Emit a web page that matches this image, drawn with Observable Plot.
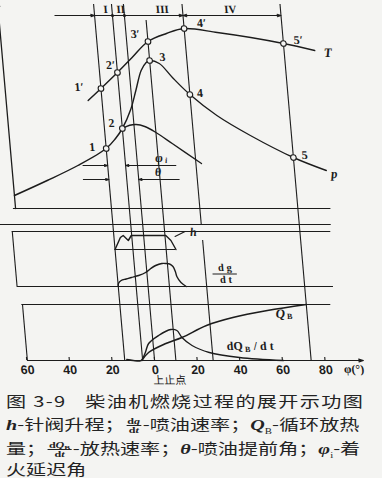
<!DOCTYPE html>
<html><head><meta charset="utf-8">
<script src="https://cdn.jsdelivr.net/npm/d3@7"></script>
<script src="https://cdn.jsdelivr.net/npm/@observablehq/plot@0.6"></script>
<style>
html,body{margin:0;padding:0;background:#f4f4f2;}
#wrap{position:relative;width:382px;height:478px;overflow:hidden;}
#chart{transform:skewX(5deg);transform-origin:0 360px;}
#chart svg{display:block;}
.cap{position:absolute;left:6px;white-space:nowrap;font-family:"Noto Sans CJK SC";font-size:15px;color:#232323;transform:scaleX(1.34);transform-origin:0 50%;line-height:22px;height:22px;}
.fr{display:inline-block;vertical-align:middle;font-family:"Liberation Serif",serif;font-size:9px;line-height:8px;text-align:center;font-weight:bold;margin:0 1px;}
.fr > span{display:block;padding:0 1px;height:8px;}
.fr .n{border-bottom:1px solid #232323;}
.cap i{font-family:"Liberation Serif",serif;font-weight:bold;}
.cap sub{font-size:8px;line-height:8px;font-family:"Liberation Serif",serif;}
.fr sub{font-size:6.5px;line-height:6px;vertical-align:baseline;position:relative;top:1.5px;}
</style></head>
<body><div id="wrap"><div id="chart"></div>
<div class="cap" style="top:390px;letter-spacing:1px">图 3-9<span style="display:inline-block;width:14px"></span>柴油机燃烧过程的展开示功图</div>
<div class="cap" style="top:413px"><i>h</i>-针阀升程；<span class="fr"><span class="n">d<i>g</i></span><span>d<i>t</i></span></span>-喷油速率；<i>Q</i><sub>B</sub>-循环放热</div>
<div class="cap" style="top:437px">量；<span class="fr"><span class="n">d<i>Q</i><sub>B</sub></span><span>d<i>t</i></span></span>-放热速率；<i>θ</i>-喷油提前角；<i>φ</i><sub>i</sub>-着</div>
<div class="cap" style="top:460px;line-height:18px;height:18px">火延迟角</div>
</div>
<script>
// ---------------- data (crank angle in degrees, curve heights in relative units) ----------------
const crankTicks = [-60, -40, -20, 0, 20, 40, 60, 80];
// characteristic angles: 1 injection start, 2 combustion start, TDC, 3 p max, 4 T max, 5 end of combustion
const markLines = [-14, -5.6, 0, 10, 27.5, 73.5];
const stageNames = ["I", "II", "III", "IV"];
const stageAngle = [-8.6, -1.5, 18, 50];

const pAngle = [-59, -43, -28, -14, -9.2, -5.6, -0.9, 2.3, 5.6, 8.3, 10, 14.4, 20, 27.5, 39.3, 54.2, 73.5, 88.4];
const pValue = [6.5, 14, 21.5, 30, 35, 40, 49.5, 59, 69, 73, 74, 72.5, 65.5, 57, 46.5, 36.5, 25.5, 19];
const motoredAngle = [-5.6, -2, 1, 5, 10, 17.2, 30.1];
const motoredValue = [40, 41.6, 42, 41, 38, 32.5, 22.5];
const tAngle = [-20.5, -14, -5.6, 1.9, 10, 19, 27.5, 42.9, 58.4, 73.5, 87.9];
const tValue = [54, 60, 68, 75.5, 83.5, 87.5, 90, 88, 85.5, 82.5, 79];

const pointAngle = [-14, -5.6, 10, 27.5, 73.5];
const pPointValue = [30, 40, 74, 57, 25.5];
const tPointValue = [60, 68, 83.5, 90, 82.5];
const pointNames = ["1", "2", "3", "4", "5"];
const pLabelAngle = [-20.6, -10.5, 16.1, 32.2, 78.9];
const pLabelValue = [30.5, 42.5, 75.5, 57.5, 26.5];
const tLabelAngle = [-24.2, -8.5, 4.3, 35.9, 80.6];
const tLabelValue = [60.5, 71.5, 87, 92.5, 84];

const hAngle = [-14, -11, -9.6, -7.4, -5.8, 10.4, 12.6, 14.6];
const hValue = [37, 49, 51, 46, 51, 51, 46, 37];
const dgAngle = [-14, -13.8, -12.4, -10, -7.5, -4, -0.6, 2, 4.4, 7.4, 9.3, 11, 12.5, 13.4, 13.9, 15.6, 17.9];
const dgValue = [0, 3, 6, 7.5, 9, 11, 14, 18, 21, 23, 23, 22.5, 20, 15, 10, 4, 0];

const qAngle = [-6, -2.5, 6, 13.8, 25.8, 38.5, 55, 73.5];
const qValue = [0, 8, 17, 23, 35, 43, 50, 56];
const dqAngle = [-13, -10, -7, -6, -4, -2.1, 2.9, 8.9, 11.7, 13.8, 18.2, 26, 40, 60.5];
const dqValue = [1, 0, -0.5, 0.5, 8, 17, 25, 31, 30, 23, 15, 8, 3, 0];

// ---------------- drawing ----------------
const ink = "#1c1c1c";
const bg = "#f4f4f2";
const serif = "Liberation Serif";
const zip = (xs, ys) => xs.map((x, i) => ({x, y: ys[i]}));
const X = {domain: [-72.3, 107], axis: null};
const common = {width: 382, marginLeft: 0, marginRight: 0, style: {background: "transparent", overflow: "visible"}};
const lbl = {fontFamily: serif, fontWeight: "bold", fill: ink};

// top panel: p and T
const topPlot = Plot.plot({
  ...common, height: 214, marginTop: 0, marginBottom: 6,
  x: X, y: {domain: [0, 104], axis: null},
  marks: [
    Plot.ruleY([0], {x1: -60, x2: 89, stroke: ink, strokeWidth: 1.2}),
    Plot.arrow([{a: -59, b0: 0, b1: 103.5}], {x1: "a", x2: "a", y1: "b0", y2: "b1", stroke: ink, strokeWidth: 1.3, headLength: 6, headAngle: 40}),
    Plot.ruleX(markLines, {x: d => d, y1: -3, y2: d => d === 10 ? 94 : 102, stroke: ink, strokeWidth: 1.1}),
    // stage dimension line
    Plot.ruleY([96.5], {x1: -32.5, x2: 73.5, stroke: ink, strokeWidth: 1}),
    Plot.arrow([[-32.5, -14], [15, 27.5], [40, 27.5], [55, 73.5]], {x1: d => d[0], x2: d => d[1], y1: 96.5, y2: 96.5, stroke: ink, strokeWidth: 1, headLength: 6, headAngle: 35}),
    Plot.dot([-5.6, 0], {x: d => d, y: 96.5, r: 1.6, fill: ink}),
    Plot.text(stageNames, {x: (d, i) => stageAngle[i], y: 99.5, text: d => d, fontSize: 11, ...lbl}),
    // phi_i and theta dimension arrows
    Plot.arrow([[-25.6, -14, 21.5], [18, -5.6, 21.5], [-26, -14, 14.5], [19, 0, 14.5]], {x1: d => d[0], x2: d => d[1], y1: d => d[2], y2: d => d[2], stroke: ink, strokeWidth: 1, headLength: 5, headAngle: 35}),
    Plot.text(["φ"], {x: 10.4, y: 25.5, text: d => d, fontSize: 13, fontStyle: "italic", ...lbl}),
    Plot.text(["i"], {x: 10.4, y: 25.5, dx: 7, dy: 3, text: d => d, fontSize: 8, fontStyle: "italic", ...lbl}),
    Plot.text(["θ"], {x: 9.3, y: 18, text: d => d, fontSize: 12, fontStyle: "italic", ...lbl}),
    // curves
    Plot.line(zip(pAngle, pValue), {x: "x", y: "y", curve: "catmull-rom", stroke: ink, strokeWidth: 1.4}),
    Plot.line(zip(motoredAngle, motoredValue), {x: "x", y: "y", curve: "catmull-rom", stroke: ink, strokeWidth: 1.4}),
    Plot.line(zip(tAngle, tValue), {x: "x", y: "y", curve: "catmull-rom", stroke: ink, strokeWidth: 1.4}),
    Plot.dot(zip(pointAngle, pPointValue), {x: "x", y: "y", r: 2.8, fill: bg, stroke: ink, strokeWidth: 1.1}),
    Plot.dot(zip(pointAngle, tPointValue), {x: "x", y: "y", r: 2.8, fill: bg, stroke: ink, strokeWidth: 1.1}),
    Plot.text(pointNames, {x: (d, i) => pLabelAngle[i], y: (d, i) => pLabelValue[i], text: d => d, fontSize: 12, ...lbl}),
    Plot.text(pointNames, {x: (d, i) => tLabelAngle[i], y: (d, i) => tLabelValue[i], text: d => d + "′", fontSize: 12, ...lbl}),
    Plot.text(["T"], {x: 94, y: 78, text: d => d, fontSize: 13, fontStyle: "italic", ...lbl}),
    Plot.text(["p"], {x: 92, y: 17.5, text: d => d, fontSize: 13, fontStyle: "italic", ...lbl})
  ]
});

// middle panel: needle lift h and injection rate dg/dt
const midPlot = Plot.plot({
  ...common, height: 86, marginTop: 0, marginBottom: 14,
  x: X, y: {domain: [0, 72], axis: null},
  marks: [
    Plot.ruleY([62], {x1: -68, x2: 88.5, stroke: ink, strokeWidth: 1.1}),
    Plot.ruleY([55], {x1: -61.5, x2: 88, stroke: ink, strokeWidth: 1.1}),
    Plot.ruleX([-61.5], {y1: 0, y2: 55, stroke: ink, strokeWidth: 1.1}),
    Plot.ruleY([0], {x1: -61.5, x2: 87, stroke: ink, strokeWidth: 1.1}),
    Plot.ruleX(markLines.filter(d => d !== 27.5), {x: d => d, y1: -14, y2: 72, stroke: ink, strokeWidth: 1.1}),
    Plot.ruleX([27.5, 27.5], {x: d => d, y1: (d, i) => i ? -14 : 61, y2: (d, i) => i ? 46 : 72, stroke: ink, strokeWidth: 1.1}),
    Plot.ruleY([37], {x1: -14, x2: 14.6, stroke: ink, strokeWidth: 1.1}),
    Plot.line(zip(hAngle, hValue), {x: "x", y: "y", stroke: ink, strokeWidth: 1.4}),
    Plot.line([[14.7, 50], [19.6, 55]], {x: d => d[0], y: d => d[1], stroke: ink, strokeWidth: 1}),
    Plot.text(["h"], {x: 21.8, y: 54, text: d => d, textAnchor: "start", fontSize: 12, fontStyle: "italic", ...lbl}),
    Plot.line(zip(dgAngle, dgValue), {x: "x", y: "y", curve: "catmull-rom", stroke: ink, strokeWidth: 1.4}),
    Plot.text(["d g"], {x: 36.8, y: 19, text: d => d, fontSize: 10.5, ...lbl}),
    Plot.ruleY([12.5], {x1: 31, x2: 42.4, stroke: ink, strokeWidth: 1}),
    Plot.text(["d t"], {x: 36.8, y: 6.5, text: d => d, fontSize: 10.5, ...lbl})
  ]
});

// bottom panel: cumulative heat release Q_B and heat release rate dQ_B/dt
const botPlot = Plot.plot({
  ...common, height: 90, marginTop: 0, marginBottom: 30,
  x: X, y: {domain: [0, 60], axis: null},
  marks: [
    Plot.ruleX(markLines, {x: d => d, y1: 0, y2: 60, stroke: ink, strokeWidth: 1.1}),
    Plot.ruleY([56], {x1: -60, x2: 85, stroke: ink, strokeWidth: 1.1}),
    Plot.ruleX([-59.7], {y1: 0, y2: 56, stroke: ink, strokeWidth: 1.1}),
    Plot.arrow([{a: -59.7, b: 98}], {x1: "a", x2: "b", y1: 0, y2: 0, stroke: ink, strokeWidth: 1.2, headLength: 6, headAngle: 35}),
    Plot.ruleX(crankTicks, {x: d => d, y1: 0, y2: 3, stroke: ink, strokeWidth: 1.1}),
    Plot.text(crankTicks, {x: d => d, y: 0, dy: 9, text: d => String(Math.abs(d)), fontSize: 12.5, fontFamily: "Liberation Sans", fontWeight: "bold", fill: ink}),
    Plot.text(["φ(°)"], {x: 88.5, y: 0, dy: 9, text: d => d, textAnchor: "start", fontSize: 12, ...lbl}),
    Plot.text(["上止点"], {x: -1.5, y: 0, dy: 20, text: d => d, textAnchor: "start", fontSize: 11, fontFamily: "Noto Sans CJK SC", fill: ink}),
    Plot.line(zip(qAngle, qValue), {x: "x", y: "y", curve: "catmull-rom", stroke: ink, strokeWidth: 1.4}),
    Plot.line(zip(dqAngle, dqValue), {x: "x", y: "y", curve: "catmull-rom", stroke: ink, strokeWidth: 1.4}),
    Plot.text(["Q"], {x: 61, y: 47, text: d => d, fontSize: 13, fontStyle: "italic", ...lbl}),
    Plot.text(["B"], {x: 61, y: 47, dx: 9, dy: 3, text: d => d, fontSize: 8, ...lbl}),
    Plot.text(["dQ"], {x: 34.4, y: 14, text: d => d, textAnchor: "start", fontSize: 12, ...lbl}),
    Plot.text(["B"], {x: 34.4, y: 14, dx: 18, dy: 3, text: d => d, textAnchor: "start", fontSize: 8, ...lbl}),
    Plot.text(["/ d t"], {x: 34.4, y: 14, dx: 27, text: d => d, textAnchor: "start", fontSize: 12, ...lbl})
  ]
});

const chart = document.getElementById("chart");
chart.append(topPlot, midPlot, botPlot);
</script></body></html>
